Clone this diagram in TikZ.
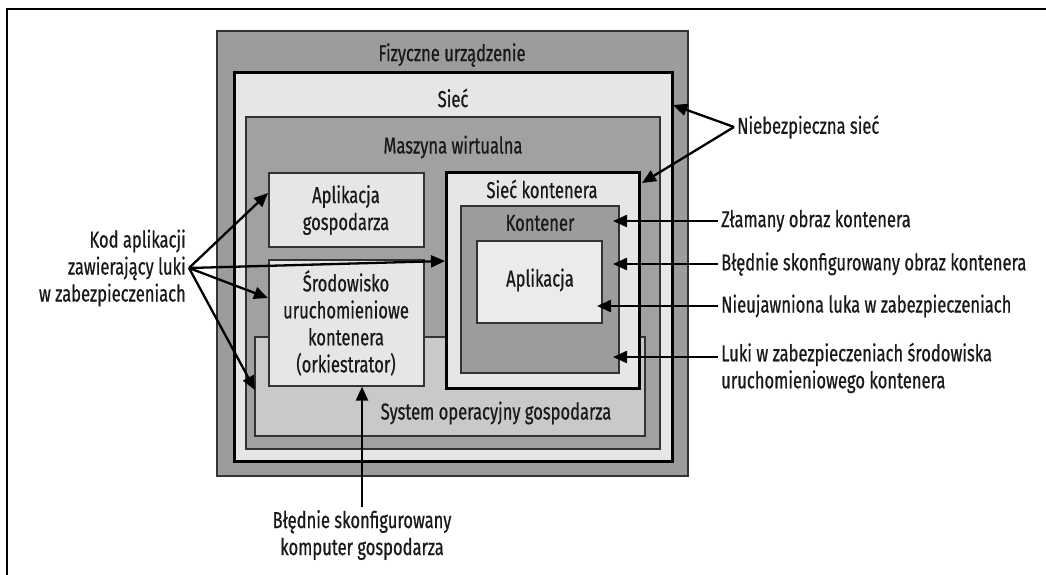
\documentclass[tikz,border=0pt]{standalone}
\usepackage{fontspec}
\setmainfont{Fira Sans}[FakeStretch=0.72,FakeBold=0.6]
\usetikzlibrary{arrows.meta,fit}
\definecolor{ciemny}{HTML}{9C9C9C}
\definecolor{jasny}{HTML}{E6E6E6}
\definecolor{sredni}{HTML}{C9C9C9}

\begin{document}
\begin{tikzpicture}[x=1pt,y=-1pt,
    ramka/.style={draw=black!80,line width=1.2pt,inner sep=0pt},
    gruba/.style={draw=black,line width=3pt,inner sep=0pt},
    opis/.style={font=\fontsize{23}{27}\selectfont,text=black!90,inner sep=3pt,align=center},
    strzalka/.style={-{Triangle[length=14pt,width=12pt]},line width=2.3pt}]
	\useasboundingbox (0,0) rectangle (1046,575);
	\draw[line width=2.5pt] (1046,9) -- (7,9) -- (7,575);					% Ramka

	% Warstwy
	\node[ramka,fill=ciemny,fit={(217,31) (688,476)}] (fiz) {};			% Fizyczne urządzenie
	\node[gruba,fill=jasny,fit={(234,73) (672,461)}] (siec) {};			% Sieć
	\node[ramka,fill=ciemny!95,fit={(246,117) (660,449)}] (vm) {};		% Maszyna wirtualna
	\node[ramka,fill=sredni,fit={(255,337) (645,436)}] (hostos) {};		% System operacyjny
	\node[ramka,fill=jasny,fit={(269,173) (424,247)}] (appg) {};			% Aplikacja gospodarza
	\node[ramka,fill=jasny,fit={(269,260) (424,386)}] (runtime) {};		% Środowisko
	\node[gruba,fill=jasny,fit={(446,172) (639,388)}] (cnet) {};			% Sieć kontenera
	\node[ramka,fill=ciemny,fit={(461,206) (619,373)}] (kont) {};			% Kontener
	\node[ramka,fill=jasny!80!white,fit={(477,241) (602,323)}] (app) {};	% Aplikacja

	% Napisy w warstwach
	\node[opis] (tfiz) at (452,55) {Fizyczne urządzenie};
	\node[opis] (tsiec) at (453,98) {Sieć};
	\node[opis] (tvm) at (453,147) {Maszyna wirtualna};
	\node[opis] (tappg) at (346,210) {Aplikacja\\gospodarza};
	\node[opis] (truntime) at (346,323) {Środowisko\\uruchomieniowe\\kontenera\\(orkiestrator)};
	\node[opis] (thostos) at (496,413) {System operacyjny gospodarza};
	\node[opis] (tcnet) at (542,189) {Sieć kontenera};
	\node[opis] (tkont) at (540,223) {Kontener};
	\node[opis] (tapp) at (540,280) {Aplikacja};

	% Opisy zagrożeń
	\node[opis,anchor=west] (niebez) at (734,127) {Niebezpieczna sieć};
	\node[opis,anchor=west] (zlamany) at (718,221) {Złamany obraz kontenera};
	\node[opis,anchor=west] (bledny) at (718,264) {Błędnie skonfigurowany obraz kontenera};
	\node[opis,anchor=west] (nieujaw) at (718,306) {Nieujawniona luka w zabezpieczeniach};
	\node[opis,anchor=west,align=left] (luki) at (718,368) {Luki w zabezpieczeniach środowiska\\uruchomieniowego kontenera};
	\node[opis,anchor=east,align=right] (kod) at (189,268) {Kod aplikacji\\zawierający luki\\w zabezpieczeniach};
	\node[opis] (komputer) at (362,535) {Błędnie skonfigurowany\\komputer gospodarza};

	% Końce strzałek
	\coordinate (tsiecp) at (673,105);
	\coordinate (tcnetp) at (642,183);
	\coordinate (tzlam) at (613,221);
	\coordinate (tbled) at (613,264);
	\coordinate (tnieuj) at (597,306);
	\coordinate (tluki) at (613,357);
	\coordinate (tkod1) at (268,193);
	\coordinate (tkod2) at (445,261);
	\coordinate (tkod3) at (268,298);
	\coordinate (tkod4) at (255,390);

	% Strzałki
	\draw[strzalka] (niebez.west) -- (tsiecp);
	\draw[strzalka] (niebez.west) -- (tcnetp);
	\draw[strzalka] (zlamany.west) -- (tzlam);
	\draw[strzalka] (bledny.west) -- (tbled);
	\draw[strzalka] (nieujaw.west) -- (tnieuj);
	\draw[strzalka] (luki.west |- tluki) -- (tluki);
	\draw[strzalka] (kod.east) -- (tkod1);
	\draw[strzalka] (kod.east) -- (tkod2);
	\draw[strzalka] (kod.east) -- (tkod3);
	\draw[strzalka] (kod.east) -- (tkod4);
	\draw[strzalka] (komputer.north) -- (komputer.north |- runtime.south);
\end{tikzpicture}
\end{document}
